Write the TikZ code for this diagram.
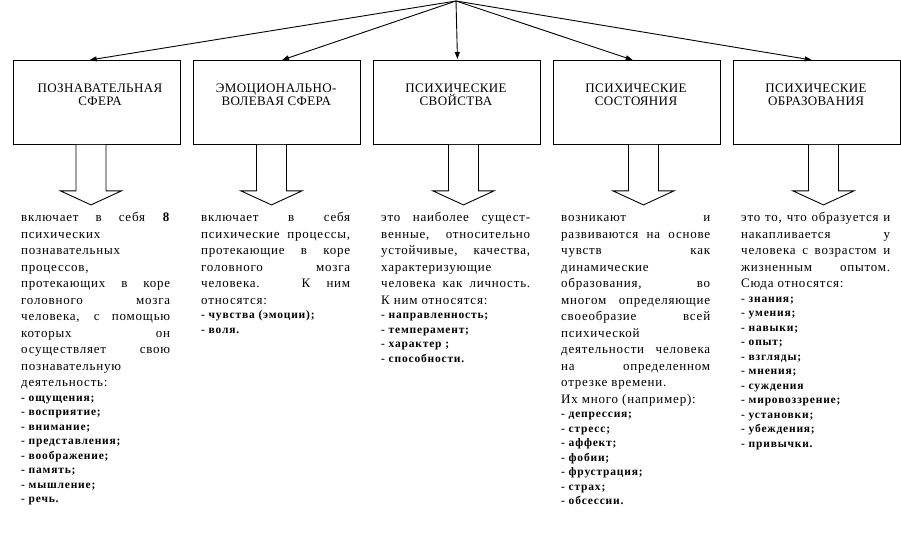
\documentclass[tikz,border=0pt]{standalone}
\usepackage{fontspec}
\setmainfont{Liberation Serif}
\newfontfamily\bodyfnt{Liberation Serif}[LetterSpace=6]
\newfontfamily\listfnt{Liberation Serif}[LetterSpace=7]
\newfontfamily\labfnt{Liberation Serif}[LetterSpace=3]
\usetikzlibrary{arrows.meta,calc}
\newcommand\JL[1]{\makebox[\linewidth][s]{#1}}
\newcommand\normtxt{\bodyfnt\fontsize{13}{16.5}\selectfont}
\newcommand\listtxt{\listfnt\bfseries\fontsize{11.5}{14.5}\selectfont}
\newcommand\lab[1]{\parbox[t]{160pt}{\centering\labfnt\fontsize{13}{13.3}\selectfont #1}}
\newcommand\coltext[1]{\parbox[t]{149pt}{#1}}
\tikzset{
  box/.style={draw, line width=0.9pt, minimum width=167.5pt, minimum height=84pt, inner sep=0pt, anchor=north west},
  lbl/.style={inner sep=0pt, anchor=base},
  txt/.style={inner sep=0pt, anchor=base west},
  conn/.style={line width=0.9pt, -{Triangle[length=7pt,width=5pt]}},
  blk/.style={line width=0.9pt, fill=white}
}
\begin{document}
\begin{tikzpicture}[x=1pt,y=-1pt]
\fill[white] (0,0) rectangle (901,553);
\useasboundingbox (0,0) rectangle (901,553);

% boxes
\node[box] (b1) at (12.5,60) {};
\node[box] (b2) at (192.5,60) {};
\node[box] (b3) at (372.5,60) {};
\node[box] (b4) at (552.5,60) {};
\node[box] (b5) at (732.5,60) {};

% labels
\node[lbl] (l1) at (100,92.7) {\lab{ПОЗНАВАТЕЛЬНАЯ\\СФЕРА}};
\node[lbl] (l2) at (276.25,92.7) {\lab{ЭМОЦИОНАЛЬНО-\\ВОЛЕВАЯ СФЕРА}};
\node[lbl] (l3) at (456,92.7) {\lab{ПСИХИЧЕСКИЕ\\СВОЙСТВА}};
\node[lbl] (l4) at (636,92.7) {\lab{ПСИХИЧЕСКИЕ\\СОСТОЯНИЯ}};
\node[lbl] (l5) at (816,92.7) {\lab{ПСИХИЧЕСКИЕ\\ОБРАЗОВАНИЯ}};

% top connectors
\coordinate (apex) at (456,1);
\draw[conn] (apex) -- ([xshift=-7pt]b1.north);
\draw[conn] (apex) -- ([xshift=5.4pt]b2.north);
\draw[conn] (apex) -- ([xshift=0.75pt,yshift=1pt]b3.north);
\draw[conn] (apex) -- ([xshift=-4pt]b4.north);
\draw[conn] (apex) -- ([xshift=-5pt]b5.north);

% block arrows
\coordinate (a1) at ([xshift=-5.75pt]b1.south);
\coordinate (a2) at ([xshift=-5.25pt]b2.south);
\coordinate (a3) at ([xshift=6.75pt]b3.south);
\coordinate (a4) at ([xshift=6.75pt]b4.south);
\coordinate (a5) at ([xshift=6.75pt]b5.south);
\foreach \a in {a1,a2,a3,a4,a5}{
  \draw[blk] ($(\a)+(-15,0)$) -- ($(\a)+(-15,46)$) -- ($(\a)+(-30.5,46)$) -- ($(\a)+(0,60)$)
    -- ($(\a)+(30.5,46)$) -- ($(\a)+(15,46)$) -- ($(\a)+(15,0)$);
}

% texts
\node[txt] (t1) at (21,221.7) {\coltext{\normtxt
\JL{включает в себя \textbf{8}}\\
психических\\
познавательных\\
процессов,\\
\JL{протекающих в коре}\\
\JL{головного мозга}\\
\JL{человека, с помощью}\\
\JL{которых он}\\
\JL{осуществляет свою}\\
познавательную\\
деятельность:\par
\listtxt
- ощущения;\\
- восприятие;\\
- внимание;\\
- представления;\\
- воображение;\\
- память;\\
- мышление;\\
- речь.}};

\node[txt] (t2) at (201,221.7) {\coltext{\normtxt
\JL{включает в себя}\\
\JL{психические процессы,}\\
\JL{протекающие в коре}\\
\JL{головного мозга}\\
\JL{человека. К ним}\\
относятся:\par
\listtxt
- чувства (эмоции);\\
- воля.}};

\node[txt] (t3) at (381,221.7) {\coltext{\normtxt
\JL{это наиболее сущест-}\\
\JL{венные, относительно}\\
\JL{устойчивые, качества,}\\
характеризующие\\
\JL{человека как личность.}\\
К ним относятся:\par
\listtxt
- направленность;\\
- темперамент;\\
- характер ;\\
- способности.}};

\node[txt] (t4) at (561,221.7) {\coltext{\normtxt
\JL{возникают и}\\
\JL{развиваются на основе}\\
\JL{чувств как}\\
динамические\\
\JL{образования, во}\\
\JL{многом определяющие}\\
\JL{своеобразие всей}\\
психической\\
\JL{деятельности человека}\\
\JL{на определенном}\\
отрезке времени.\\
Их много (например):\par
\listtxt
- депрессия;\\
- стресс;\\
- аффект;\\
- фобии;\\
- фрустрация;\\
- страх;\\
- обсессии.}};

\node[txt] (t5) at (741,221.7) {\coltext{\normtxt
\JL{это то, что образуется и}\\
\JL{накапливается у}\\
\JL{человека с возрастом и}\\
\JL{жизненным опытом.}\\
Сюда относятся:\par
\listtxt
- знания;\\
- умения;\\
- навыки;\\
- опыт;\\
- взгляды;\\
- мнения;\\
- суждения\\
- мировоззрение;\\
- установки;\\
- убеждения;\\
- привычки.}};
\end{tikzpicture}
\end{document}
